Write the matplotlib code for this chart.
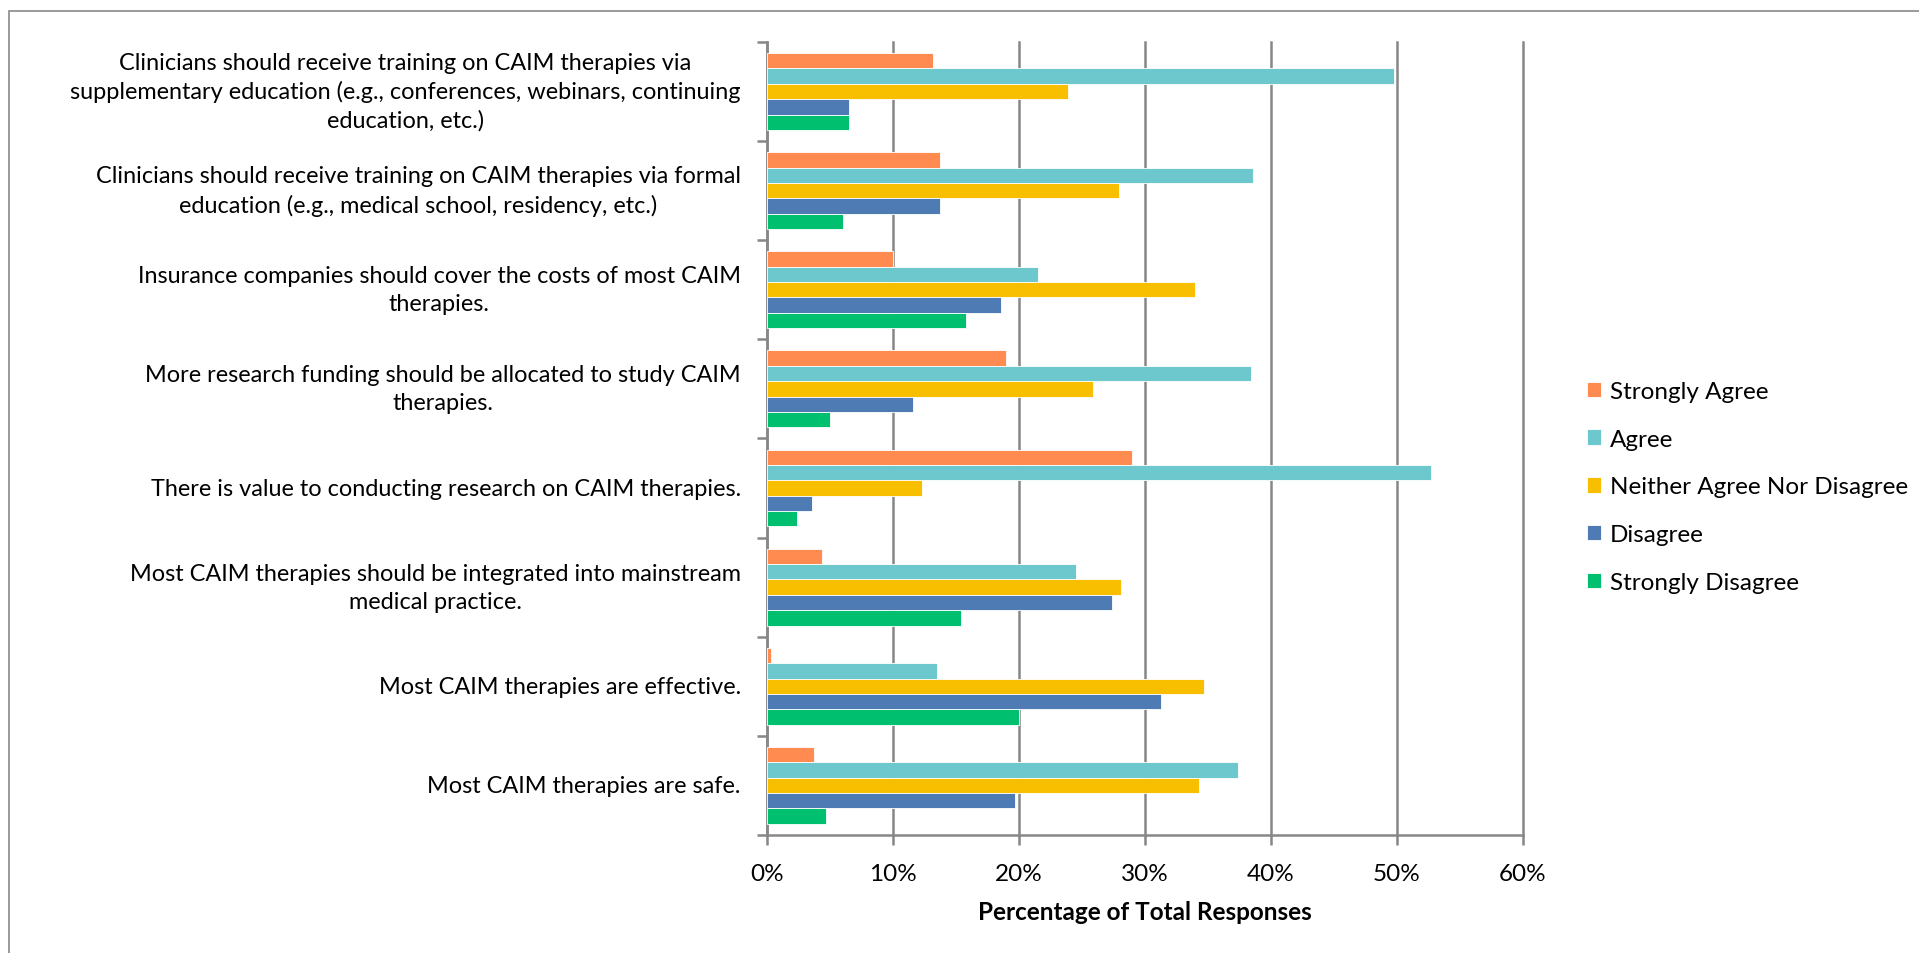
import matplotlib
matplotlib.use("Agg")
import matplotlib.pyplot as plt
from matplotlib.patches import Rectangle
import numpy as np

plt.rcParams['font.family'] = ['Lato', 'DejaVu Sans']

# statements, bottom to top
statements = [
    "Most CAIM therapies are safe.",
    "Most CAIM therapies are effective.",
    "Most CAIM therapies should be integrated into mainstream\nmedical practice.",
    "There is value to conducting research on CAIM therapies.",
    "More research funding should be allocated to study CAIM\ntherapies.",
    "Insurance companies should cover the costs of most CAIM\ntherapies.",
    "Clinicians should receive training on CAIM therapies via formal\neducation (e.g., medical school, residency, etc.)",
    "Clinicians should receive training on CAIM therapies via\nsupplementary education (e.g., conferences, webinars, continuing\neducation, etc.)",
]

responses = ["Strongly Agree", "Agree", "Neither Agree Nor Disagree", "Disagree", "Strongly Disagree"]

# percentages per statement (same order as statements)
strongly_agree = [3.7, 0.3, 4.4, 29.0, 19.0, 10.0, 13.7, 13.2]
agree = [37.4, 13.5, 24.5, 52.7, 38.4, 21.5, 38.6, 49.8]
neither = [34.3, 34.7, 28.1, 12.3, 25.9, 34.0, 27.9, 23.9]
disagree = [19.7, 31.3, 27.4, 3.6, 11.6, 18.6, 13.7, 6.5]
strongly_disagree = [4.7, 20.0, 15.4, 2.4, 5.0, 15.8, 6.0, 6.5]

series = [strongly_agree, agree, neither, disagree, strongly_disagree]
colors = ["#FF8B50", "#6CC8CC", "#F8BE00", "#4F7BB5", "#00BF6F"]

fig = plt.figure(figsize=(19.19, 9.54), dpi=100)
ax = fig.add_axes([0.3997, 0.1237, 0.3939, 0.8313])

y = np.arange(len(statements))
h = 0.155
for k in range(5):
    off = (2 - k) * h
    ax.barh(y + off, series[k], height=h, color=colors[k], edgecolor="white",
            linewidth=0.6, label=responses[k], zorder=3)

ax.set_xlim(0, 60)
ax.set_ylim(-0.5, len(statements) - 0.5)
ax.set_xticks(np.arange(0, 61, 10))
ax.set_xticklabels([f"{v}%" for v in range(0, 61, 10)], fontsize=17.5)
ax.grid(axis="x", color="#878787", linewidth=1.8, zorder=1)
for gl in ax.get_xgridlines():
    gl.set_clip_on(False)

ax.set_yticks(np.arange(-0.5, len(statements), 1.0))
ax.set_yticklabels([])
ax.set_yticks(y, minor=True)
ax.set_yticklabels(statements, minor=True, fontsize=16.9)
for t in ax.get_yticklabels(minor=True):
    t.set_multialignment("center")
    t.set_linespacing(1.4)
    t.set_verticalalignment("center")
ax.tick_params(axis="y", which="minor", length=0, pad=19)
ax.tick_params(axis="y", which="major", length=7, width=1.8, color="#878787")
ax.tick_params(axis="x", length=7, width=1.8, color="#878787", pad=13)

for s in ["top", "right"]:
    ax.spines[s].set_visible(False)
for s in ["left", "bottom"]:
    ax.spines[s].set_color("#878787")
    ax.spines[s].set_linewidth(1.8)

ax.set_xlabel("Percentage of Total Responses", fontsize=17.5, fontweight="bold", labelpad=12)

ax.legend(loc="center left", bbox_to_anchor=(0.8155, 0.4885), bbox_transform=fig.transFigure,
          frameon=False, fontsize=17.5, handlelength=0.6, handleheight=0.6,
          handletextpad=0.35, labelspacing=1.1)

fig.patches.append(Rectangle((9 / 1919, -0.05), 1.2, 1 - 12 / 954 + 0.05, transform=fig.transFigure,
                             fill=False, edgecolor="#898989", linewidth=1.2))

fig.savefig("out.png", dpi=100)
